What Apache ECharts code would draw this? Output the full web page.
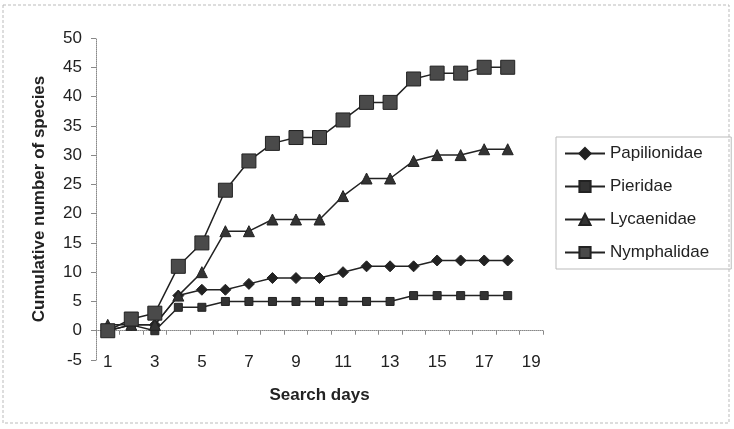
<!DOCTYPE html>
<html>
<head>
<meta charset="utf-8">
<script src="https://cdn.jsdelivr.net/npm/echarts@6/dist/echarts.min.js"></script>
<style>html,body{margin:0;padding:0;background:#fff}#c{width:734px;height:429px}</style>
</head>
<body>
<div id="c"></div>
<script>
var days = ['1','2','3','4','5','6','7','8','9','10','11','12','13','14','15','16','17','18','19'];
var papilionidae = [0, 1, 1, 6, 7, 7, 8, 9, 9, 9, 10, 11, 11, 11, 12, 12, 12, 12];
var pieridae     = [0, 1, 0, 4, 4, 5, 5, 5, 5, 5, 5, 5, 5, 6, 6, 6, 6, 6];
var lycaenidae   = [1, 1, 1, 6, 10, 17, 17, 19, 19, 19, 23, 26, 26, 29, 30, 30, 31, 31];
var nymphalidae  = [0, 2, 3, 11, 15, 24, 29, 32, 33, 33, 36, 39, 39, 43, 44, 44, 45, 45];

var FONT = 'Liberation Sans';
var ink = '#222';
var chart = echarts.init(document.getElementById('c'));
function mk(name, data, symbol, size, fill) {
  return {
    name: name, type: 'line', data: data, xAxisIndex: 0,
    symbol: symbol, symbolSize: size, showSymbol: true,
    lineStyle: { color: ink, width: 1.5 },
    itemStyle: { color: fill, borderColor: ink, borderWidth: 1 },
    emphasis: { disabled: true }, animation: false, z: 3
  };
}
chart.setOption({
  animation: false,
  textStyle: { fontFamily: FONT, color: ink },
  graphic: [{
    type: 'rect', shape: { x: 3, y: 5, width: 726, height: 418 },
    style: { fill: 'none', stroke: '#bbb', lineWidth: 1, lineDash: [3, 2] }, z: -1
  }],
  grid: { left: 96, right: 191, top: 38, bottom: 69 },
  legend: {
    orient: 'vertical', left: 556, top: 137,
    padding: [8, 22, 8, 8], itemGap: 16, itemWidth: 40, itemHeight: 14,
    borderColor: '#bbb', borderWidth: 1,
    textStyle: { fontFamily: FONT, fontSize: 17, color: ink },
    data: ['Papilionidae', 'Pieridae', 'Lycaenidae', 'Nymphalidae']
  },
  xAxis: [{
    type: 'category', data: days, boundaryGap: true, position: 'bottom',
    axisLine: { show: false, onZero: false }, axisTick: { show: false },
    axisLabel: { interval: 1, fontSize: 17, color: ink, fontFamily: FONT, margin: -6, verticalAlign: 'top' },
    name: 'Search days', nameLocation: 'middle', nameGap: 27,
    nameTextStyle: { fontSize: 17, fontWeight: 'bold', color: ink, fontFamily: FONT, verticalAlign: 'top' }
  }, {
    type: 'category', data: days, boundaryGap: true, position: 'top',
    axisLine: { show: true, onZero: true, onZeroAxisIndex: 0, lineStyle: { color: '#888', type: 'dotted', width: 1 } },
    axisTick: { show: true, inside: true, interval: 0, length: 4, lineStyle: { color: '#888' } },
    axisLabel: { show: false }
  }],
  yAxis: {
    type: 'value', min: -5, max: 50, interval: 5,
    axisLine: { show: true, lineStyle: { color: '#888', type: 'dotted', width: 1 } },
    axisTick: { show: true, length: 5, lineStyle: { color: '#888' } },
    splitLine: { show: false },
    axisLabel: { fontSize: 17, color: ink, fontFamily: FONT, margin: 14 },
    name: 'Cumulative number of species', nameLocation: 'middle', nameGap: 48,
    nameTextStyle: { fontSize: 17, fontWeight: 'bold', color: ink, fontFamily: FONT }
  },
  series: [
    mk('Papilionidae', papilionidae, 'diamond', 11, '#222'),
    mk('Pieridae', pieridae, 'rect', 8, '#333'),
    mk('Lycaenidae', lycaenidae, 'triangle', 11, '#333'),
    mk('Nymphalidae', nymphalidae, 'rect', 14, '#4a4a4a')
  ]
});
</script>
</body>
</html>
